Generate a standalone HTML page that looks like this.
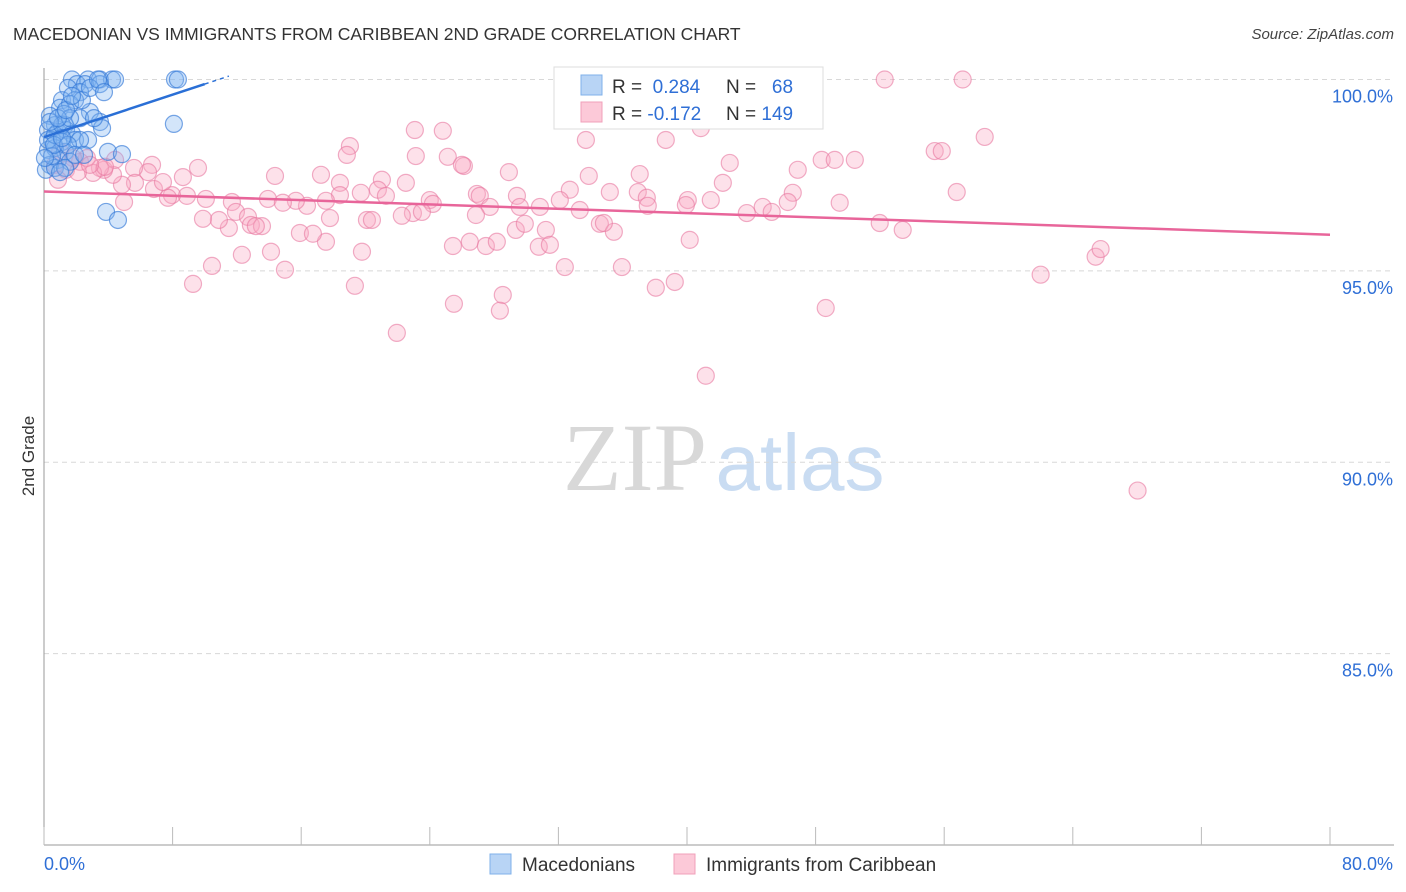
<!DOCTYPE html>
<html><head><meta charset="utf-8"><style>
body{margin:0;background:#fff;width:1406px;height:892px;overflow:hidden;font-family:"Liberation Sans",sans-serif}
svg{display:block}
</style></head><body>
<svg id="chart" width="1406" height="892" xmlns="http://www.w3.org/2000/svg">
<text x="13" y="40" font-size="17.5" fill="#333" font-family="Liberation Sans, sans-serif">MACEDONIAN VS IMMIGRANTS FROM CARIBBEAN 2ND GRADE CORRELATION CHART</text>
<text x="1394" y="39" font-size="15" fill="#444" text-anchor="end" font-style="italic">Source: ZipAtlas.com</text>
<g>
<text x="635" y="490" font-size="96" fill="#d8d8d8" text-anchor="middle" font-family="Liberation Serif, serif">ZIP</text>
<text x="800" y="490" font-size="80" fill="#c9dcf2" text-anchor="middle">atlas</text>
</g>
<g id="grid"></g>
<g id="axes"></g>
<g id="pts"></g>
<g id="lines"></g>
<text transform="translate(34,456) rotate(-90)" font-size="17" fill="#333" text-anchor="middle">2nd Grade</text>
<g>
<rect x="554" y="67" width="269" height="62" fill="#fff" stroke="#ddd"/>
<rect x="581" y="75" width="21" height="20" fill="#b8d4f5" stroke="#7fb0ea"/>
<rect x="581" y="102" width="21" height="20" fill="#fcc9d8" stroke="#f0a0ba"/>
<text x="612" y="93" font-size="19" fill="#333">R = <tspan fill="#2f6fd6">&#160;0.284</tspan></text>
<text x="726" y="93" font-size="19" fill="#333">N = <tspan fill="#2f6fd6">&#160;&#160;68</tspan></text>
<text x="612" y="120" font-size="19" fill="#333">R = <tspan fill="#2f6fd6">-0.172</tspan></text>
<text x="726" y="120" font-size="19" fill="#333">N = <tspan fill="#2f6fd6">149</tspan></text>
</g>
<g>
<rect x="490" y="854" width="21" height="20" fill="#b8d4f5" stroke="#7fb0ea"/>
<text x="522" y="871" font-size="19" fill="#333">Macedonians</text>
<rect x="674" y="854" width="21" height="20" fill="#fcc9d8" stroke="#f0a0ba"/>
<text x="706" y="871" font-size="19" fill="#333">Immigrants from Caribbean</text>
</g>
</svg>
<script>
const yTicks=[85,90,95,100];
const yTickLabels=["85.0%","90.0%","95.0%","100.0%"];
const xTickLabels=["0.0%","80.0%"];
const blueX=[1.74,2.74,2.05,3.48,4.23,4.42,8.15,8.33,1.49,2.55,3.48,2.24,1.12,1.93,1.0,1.62,0.37,1.24,2.86,0.68,1.31,2.24,3.48,0.25,0.87,1.37,1.74,0.5,1.12,1.93,2.74,3.61,0.25,0.68,1.31,0.87,0.37,1.62,3.98,4.85,0.12,0.68,1.31,1.0,2.24,8.08,3.86,4.6,0.5,0.25,0.68,1.12,1.62,2.36,3.11,0.62,1.49,1.93,0.37,0.87,1.37,1.74,2.86,3.36,3.73,2.49,0.06,1.12];
const blueY=[100.0,100.0,99.88,100.0,100.0,100.0,100.0,100.0,99.78,99.88,99.88,99.67,99.46,99.46,99.26,99.36,99.05,99.1,99.15,98.81,98.81,98.99,98.89,98.68,98.63,98.68,98.58,98.42,98.37,98.42,98.42,98.73,98.16,98.21,98.11,97.9,97.77,97.85,98.11,98.05,97.64,97.69,97.69,97.58,98.42,98.84,96.54,96.33,98.0,98.42,98.55,98.81,98.99,99.46,98.99,98.29,98.29,98.03,98.89,98.99,99.2,99.57,99.78,100.0,99.67,98.03,97.95,98.47];
const pinkX=[52.3,57.15,23.07,24.81,40.86,58.52,33.71,38.68,19.03,18.84,23.13,25.12,26.12,26.0,28.92,37.06,42.66,46.89,48.38,49.19,50.44,55.41,55.85,33.89,14.37,17.23,18.41,21.02,22.51,20.77,21.27,19.71,24.0,24.19,26.93,27.11,29.42,32.71,32.09,35.2,36.94,37.5,37.56,40.05,39.93,41.48,42.23,46.58,46.27,49.5,56.78,43.72,44.71,33.33,29.6,30.85,27.74,26.87,22.95,23.51,22.26,18.41,17.54,16.36,15.67,13.93,14.86,11.69,11.94,12.69,12.87,13.56,13.18,11.5,10.88,9.89,10.07,8.89,7.96,7.71,6.84,7.4,8.64,9.58,6.72,6.47,5.6,5.66,4.85,4.29,3.73,3.48,3.05,2.24,2.67,4.42,4.98,3.79,15.92,14.12,12.31,10.45,9.27,14.99,17.54,16.73,17.79,20.09,20.4,19.78,19.34,21.95,25.44,25.5,26.49,27.49,28.17,28.54,28.36,29.35,29.91,31.22,30.78,31.47,32.4,34.58,35.45,34.83,35.95,38.06,39.24,40.17,41.17,45.27,48.63,51.99,53.42,62.0,65.42,65.73,68.03,1.8,1.0,0.68,1.37,0.87,2.11,2.86];
const pinkY=[100.0,100.0,98.68,98.66,98.73,98.5,98.42,98.42,98.26,98.03,98.0,97.98,97.74,97.77,97.58,97.53,97.82,97.64,97.9,97.9,97.9,98.13,98.13,97.48,97.48,97.51,97.3,97.38,97.3,97.12,96.96,97.04,96.85,96.75,97.01,96.96,96.96,97.12,96.85,97.06,97.06,96.91,96.7,96.85,96.72,96.85,97.3,97.04,96.8,96.78,97.06,96.51,96.67,96.59,96.67,96.67,96.67,96.46,96.51,96.54,96.44,96.98,96.83,96.7,96.83,96.88,96.78,96.8,96.54,96.41,96.2,96.17,96.17,96.12,96.33,96.36,96.88,96.96,96.98,96.91,97.14,97.32,97.45,97.69,97.77,97.58,97.69,97.3,97.25,97.51,97.64,97.69,97.56,97.85,97.95,97.9,96.8,97.72,95.99,95.5,95.42,95.13,94.66,95.03,95.76,95.97,96.38,96.33,96.33,95.5,94.61,93.38,95.65,94.14,95.76,95.65,95.76,94.37,93.96,96.07,96.23,96.07,95.63,95.68,95.1,96.23,96.02,96.25,95.1,94.56,94.71,95.81,92.26,96.54,94.03,96.25,96.07,94.9,95.37,95.57,89.26,97.95,98.11,97.77,97.64,97.38,97.58,97.77];
const X0=44,X1=1330,Y0=845,Y1=79.5;
const xs=v=>X0+(v/80)*(X1-X0);
const ys=v=>Y0-((v-80)/20)*(Y0-Y1);
const NS="http://www.w3.org/2000/svg";
function mk(tag,parent,attrs){const e=document.createElementNS(NS,tag);for(const k in attrs)e.setAttribute(k,attrs[k]);parent.appendChild(e);return e;}
const grid=document.getElementById('grid'),axes=document.getElementById('axes'),pts=document.getElementById('pts'),lines=document.getElementById('lines');
yTicks.forEach((t,i)=>{
 const l=mk('line',grid,{x1:X0,x2:1394,y1:ys(t),y2:ys(t),stroke:'#d8d8d8','stroke-dasharray':'5,4'});
 
 
 const tx=mk('text',axes,{x:1393,y:ys(t)+23,'font-size':18,fill:'#2f6fd6','text-anchor':'end'});
 tx.textContent=yTickLabels[i];
 
 
});
const ya=mk('line',axes,{x1:X0,x2:X0,y1:68,y2:Y0,stroke:'#999'});


const xa=mk('line',axes,{x1:X0,x2:1394,y1:Y0,y2:Y0,stroke:'#999'});


for(let v=0;v<=80;v+=8){
 const t=mk('line',axes,{x1:xs(v),x2:xs(v),y1:Y0,y2:Y0-18,stroke:'#bbb'});
 
 
}
[[0,'start',44],[80,'end',1393]].forEach((d,i)=>{
 const tx=mk('text',axes,{x:d[2],y:870,'font-size':18,fill:'#2f6fd6','text-anchor':d[1]});
 tx.textContent=xTickLabels[i];
 
 
});
pinkX.forEach((x,i)=>{
 const c=mk('circle',pts,{cx:xs(x),cy:ys(pinkY[i]),r:8.5,fill:'rgba(248,170,195,0.35)',stroke:'rgba(232,120,160,0.6)','stroke-width':1.2});
 
 
});
blueX.forEach((x,i)=>{
 const c=mk('circle',pts,{cx:xs(x),cy:ys(blueY[i]),r:8.5,fill:'rgba(130,180,240,0.35)',stroke:'rgba(50,120,215,0.65)','stroke-width':1.2});
 
 
});
function fit(X,Y){const n=X.length;let mx=0,my=0;X.forEach((x,i)=>{mx+=x;my+=Y[i]});mx/=n;my/=n;let sxy=0,sxx=0;X.forEach((x,i)=>{sxy+=(x-mx)*(Y[i]-my);sxx+=(x-mx)**2});const b=sxy/sxx;return[my-b*mx,b];}
const [pa,pb]=fit(pinkX,pinkY);
const pl=mk('line',lines,{x1:xs(0),y1:ys(pa),x2:xs(80),y2:ys(pa+pb*80),stroke:'#e8659a','stroke-width':2.5});


const [ba,bb]=fit(blueX,blueY);
const bmax=Math.max(...blueX);
const bl=mk('line',lines,{x1:xs(0),y1:ys(ba),x2:xs(10),y2:ys(ba+bb*10),stroke:'#2a6fd6','stroke-width':2.5});


const bd=mk('line',lines,{x1:xs(10),y1:ys(ba+bb*10),x2:xs(11.5),y2:ys(ba+bb*11.5),stroke:'#2a6fd6','stroke-width':1.5,'stroke-dasharray':'4,4'});


</script>
</body></html>
